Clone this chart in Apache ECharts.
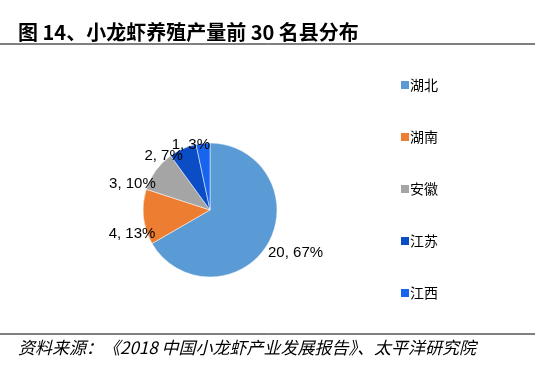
<!DOCTYPE html>
<html>
<head>
<meta charset="utf-8">
<script src="https://cdn.jsdelivr.net/npm/echarts@6/dist/echarts.min.js"></script>
<style>html,body{margin:0;padding:0;background:#fff;}#c{width:535px;height:384px;}</style>
</head>
<body>
<div id="c"></div>
<script>
var categories = ['湖北', '湖南', '安徽', '江苏', '江西'];
var values = [20, 4, 3, 2, 1];
var percents = ['67%', '13%', '10%', '7%', '3%'];
var titleText = '图 14、小龙虾养殖产量前 30 名县分布';
var sourceText = '资料来源：《2018 中国小龙虾产业发展报告》、太平洋研究院';

// styling (not data)
var colors = ['#5B9BD5', '#ED7D31', '#A5A5A5', '#0A4DC4', '#1764EE'];
var labelOffsets = [[0, 9], [12, 17], [0, 13], [0, 7], [7, 1]];

var data = categories.map(function (c, i) {
  return {
    name: c, value: values[i], pct: percents[i],
    itemStyle: { color: colors[i] },
    label: { offset: labelOffsets[i] }
  };
});

var chart = echarts.init(document.getElementById('c'), null, { renderer: 'canvas' });
chart.setOption({
  animation: false,
  backgroundColor: '#fff',
  graphic: [
    { type: 'text', left: 18, top: 22, style: { text: titleText, font: 'bold 20px "Noto Sans CJK SC"', fill: '#000' } },
    { type: 'line', shape: { x1: 0, y1: 44, x2: 535, y2: 44 }, style: { stroke: '#000', lineWidth: 1 } },
    { type: 'line', shape: { x1: 0, y1: 334, x2: 535, y2: 334 }, style: { stroke: '#000', lineWidth: 1 } },
    { type: 'text', left: 18, top: 339, style: { text: sourceText, font: 'italic 17px "Noto Sans CJK SC"', fill: '#000' } }
  ],
  legend: {
    orient: 'vertical',
    left: 394,
    top: 73,
    itemWidth: 10,
    itemHeight: 10,
    itemGap: 38,
    icon: 'rect',
    data: categories,
    textStyle: { fontFamily: '"Noto Sans CJK SC"', fontSize: 14, color: '#000', lineHeight: 14, padding: [0, 0, 0, -5] }
  },
  series: [{
    type: 'pie',
    center: [210, 210],
    radius: 67,
    startAngle: 90,
    clockwise: true,
    avoidLabelOverlap: false,
    labelLayout: { hideOverlap: false },
    itemStyle: { borderColor: '#fff', borderWidth: 0.5 },
    label: {
      show: true,
      position: 'outside',
      distanceToLabelLine: 0,
      fontFamily: '"Liberation Sans", Arial',
      fontSize: 15,
      color: '#000',
      formatter: function (p) { return p.value + ', ' + p.data.pct; }
    },
    labelLine: { show: false, length: 0, length2: 0 },
    emphasis: { disabled: true },
    data: data
  }]
});
</script>
</body>
</html>
